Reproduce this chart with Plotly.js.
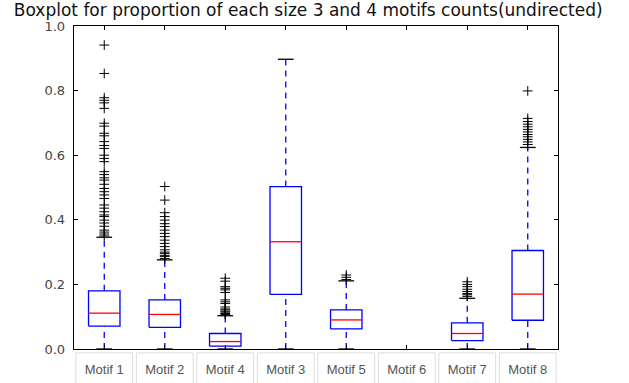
<!DOCTYPE html>
<html>
<head>
<meta charset="utf-8">
<script src="https://cdn.plot.ly/plotly-3.0.1.min.js"></script>
<style>html,body{margin:0;padding:0;background:#fff;}#chart{width:629px;height:383px;}</style>
</head>
<body>
<div id="chart"></div>
<script>
const categories = ['Motif 1','Motif 2','Motif 4','Motif 3','Motif 5','Motif 6','Motif 7','Motif 8'];
const q1Values = [0.071, 0.067, 0.009, 0.169, 0.062, null, 0.026, 0.089];
const medianValues = [0.111, 0.107, 0.023, 0.332, 0.090, null, 0.048, 0.170];
const q3Values = [0.180, 0.152, 0.048, 0.503, 0.121, null, 0.081, 0.305];
const lowerWhiskers = [0, 0, 0, 0, 0, null, 0, 0];
const upperWhiskers = [0.346, 0.276, 0.103, 0.897, 0.211, null, 0.157, 0.624];
const outliersMotif1 = [0.941, 0.853, 0.778, 0.770, 0.762, 0.745, 0.699, 0.690, 0.668, 0.660, 0.642, 0.630, 0.621, 0.600, 0.590, 0.580, 0.549, 0.540, 0.530, 0.523, 0.510, 0.497, 0.487, 0.477, 0.466, 0.446, 0.436, 0.425, 0.415, 0.410, 0.399, 0.390, 0.380, 0.368, 0.362, 0.356, 0.350];
const outliersMotif2 = [0.503, 0.461, 0.422, 0.410, 0.399, 0.388, 0.379, 0.368, 0.358, 0.348, 0.337, 0.327, 0.317, 0.307, 0.300, 0.296, 0.290, 0.286, 0.280];
const outliersMotif4 = [0.219, 0.210, 0.193, 0.188, 0.183, 0.175, 0.152, 0.146, 0.141, 0.130, 0.124, 0.121, 0.117, 0.114, 0.110, 0.107];
const outliersMotif3 = [];
const outliersMotif5 = [0.229, 0.222, 0.215];
const outliersMotif6 = [];
const outliersMotif7 = [0.208, 0.200, 0.193, 0.185, 0.178, 0.172, 0.168, 0.163];
const outliersMotif8 = [0.799, 0.714, 0.704, 0.696, 0.688, 0.680, 0.672, 0.664, 0.657, 0.649, 0.641, 0.633];

const outlierSets = [outliersMotif1, outliersMotif2, outliersMotif4, outliersMotif3, outliersMotif5, outliersMotif6, outliersMotif7, outliersMotif8];

const halfBox = 0.26, halfCap = 0.13;
const boxX = [], boxY = [], medX = [], medY = [], whX = [], whY = [], capX = [], capY = [], outX = [], outY = [];
categories.forEach((c, i) => {
  const p = i + 1;
  if (q1Values[i] !== null) {
    boxX.push(p - halfBox, p + halfBox, p + halfBox, p - halfBox, p - halfBox, null);
    boxY.push(q1Values[i], q1Values[i], q3Values[i], q3Values[i], q1Values[i], null);
    medX.push(p - halfBox, p + halfBox, null);
    medY.push(medianValues[i], medianValues[i], null);
    whX.push(p, p, null, p, p, null);
    whY.push(lowerWhiskers[i], q1Values[i], null, q3Values[i], upperWhiskers[i], null);
    capX.push(p - halfCap, p + halfCap, null, p - halfCap, p + halfCap, null);
    capY.push(lowerWhiskers[i], lowerWhiskers[i], null, upperWhiskers[i], upperWhiskers[i], null);
  }
  outlierSets[i].forEach(v => { outX.push(p); outY.push(v); });
});

const traces = [
  {x: whX, y: whY, mode: 'lines', line: {color: '#0000ff', width: 1.3, dash: '6px,5px'}, hoverinfo: 'skip'},
  {x: capX, y: capY, mode: 'lines', line: {color: '#000000', width: 1.3}, hoverinfo: 'skip'},
  {x: boxX, y: boxY, mode: 'lines', line: {color: '#0000ff', width: 1.3}, hoverinfo: 'skip'},
  {x: medX, y: medY, mode: 'lines', line: {color: '#ff0000', width: 1.3}, hoverinfo: 'skip'},
  {x: outX, y: outY, mode: 'markers', marker: {symbol: 'cross-thin-open', size: 7, color: '#000', line: {color: '#000', width: 1}}, hoverinfo: 'y'}
];

const shapes = categories.map((c, i) => ({
  type: 'rect', xref: 'x', yref: 'paper',
  x0: i + 1 - 0.47, x1: i + 1 + 0.47, y0: -0.2, y1: -0.012,
  line: {color: '#dddddd', width: 1}, fillcolor: 'rgba(0,0,0,0)', layer: 'below'
}));

const layout = {
  width: 629, height: 383,
  margin: {l: 74, r: 71, t: 26, b: 34},
  paper_bgcolor: '#fff', plot_bgcolor: '#fff',
  showlegend: false,
  font: {family: 'DejaVu Sans, sans-serif', color: '#444'},
  title: {text: 'Boxplot for proportion of each size 3 and 4 motifs counts(undirected)',
          font: {family: 'DejaVu Sans, sans-serif', size: 17, color: '#111'},
          x: 0.49, xref: 'container', y: 0.975, yref: 'container', yanchor: 'middle'},
  xaxis: {
    range: [0.5, 8.5], tickmode: 'array', tickvals: categories.map((c, i) => i + 1), ticktext: categories,
    ticks: 'inside', ticklen: 4, tickcolor: '#000', tickwidth: 1,
    showline: true, linecolor: '#000', linewidth: 1.3, mirror: 'ticks',
    showgrid: false, zeroline: false, ticklabelstandoff: 8,
    tickfont: {family: 'Liberation Sans, Arial, sans-serif', size: 13, color: '#555'}
  },
  yaxis: {
    range: [0, 1.0], tickvals: [0, 0.2, 0.4, 0.6, 0.8, 1.0], ticktext: ['0.0','0.2','0.4','0.6','0.8','1.0'],
    ticks: 'inside', ticklen: 4, tickcolor: '#000', tickwidth: 1,
    showline: true, linecolor: '#000', linewidth: 1.3, mirror: 'ticks',
    showgrid: false, zeroline: false, ticklabelstandoff: 5,
    tickfont: {family: 'DejaVu Sans, sans-serif', size: 13, color: '#444'}
  },
  shapes: shapes
};

Plotly.newPlot('chart', traces, layout, {displayModeBar: false, staticPlot: true});
</script>
</body>
</html>
